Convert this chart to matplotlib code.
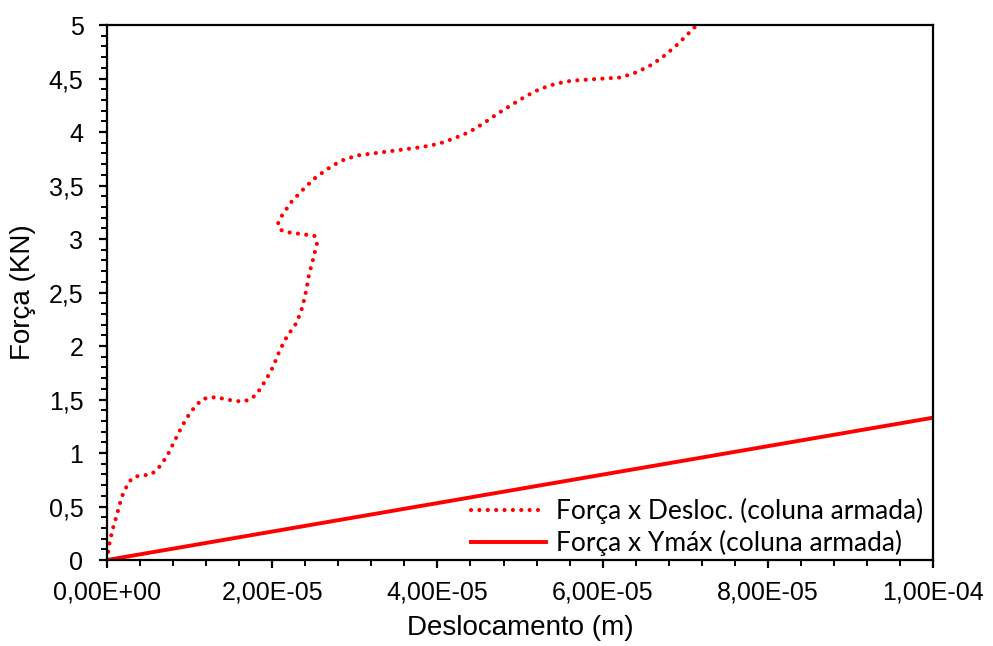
import matplotlib
matplotlib.use("Agg")
import matplotlib.pyplot as plt
from matplotlib.ticker import FuncFormatter, MultipleLocator

# Força x Desloc. (coluna armada) -- deslocamento em 1e-6 m, força em kN
desloc_um = [0.0, 0.24, 0.69, 1.25, 1.78, 2.63, 3.35, 4.32, 5.33, 6.14,
             7.26, 8.15, 9.08, 10.08, 11.46, 12.38, 13.40, 14.41, 16.34, 17.31,
             18.12, 19.21, 20.13, 20.91, 21.79, 22.97, 23.64, 24.09, 24.46, 24.94,
             25.42, 25.10, 24.13, 22.15, 21.15, 20.67, 21.10, 22.24, 23.57, 25.02,
             26.60, 28.29, 30.23, 32.20, 35.23, 38.17, 40.16, 42.01, 43.86, 45.56,
             47.25, 48.91, 50.61, 52.34, 54.27, 56.26, 58.27, 60.25, 62.23, 64.16,
             65.98, 67.59, 69.09, 70.50, 71.15, 71.30]
forca = [0.0, 0.14, 0.29, 0.44, 0.59, 0.73, 0.78, 0.79, 0.80, 0.85,
         0.97, 1.11, 1.25, 1.38, 1.50, 1.52, 1.52, 1.50, 1.48, 1.50,
         1.55, 1.68, 1.81, 1.96, 2.09, 2.22, 2.36, 2.51, 2.67, 2.81,
         2.96, 3.03, 3.04, 3.06, 3.08, 3.14, 3.21, 3.34, 3.45, 3.56,
         3.65, 3.73, 3.78, 3.80, 3.83, 3.86, 3.89, 3.94, 4.00, 4.08,
         4.17, 4.25, 4.33, 4.40, 4.45, 4.48, 4.49, 4.50, 4.51, 4.56,
         4.63, 4.72, 4.82, 4.93, 4.98, 5.00]
desloc = [d * 1e-6 for d in desloc_um]

# Força x Ymáx (coluna armada)
ymax_x = [0.0, 1.0e-4]
ymax_f = [0.0, 1.33]

plt.rcParams['font.family'] = ['Liberation Sans', 'DejaVu Sans']

fig = plt.figure(figsize=(9.93, 6.46), dpi=100)
ax = fig.add_axes([0.1078, 0.1331, 0.8318, 0.8282])

ax.plot(desloc, forca, color='#ff0000', linewidth=3.0,
        linestyle=(0, (0.01, 2.0)), dash_capstyle='round',
        label='Força x Desloc. (coluna armada)')
ax.plot(ymax_x, ymax_f, color='#ff0000', linewidth=2.8,
        label='Força x Ymáx (coluna armada)')

ax.set_xlim(0, 1.0e-4)
ax.set_ylim(0, 5)

ax.xaxis.set_major_locator(MultipleLocator(2e-5))
ax.xaxis.set_minor_locator(MultipleLocator(4e-6))
ax.yaxis.set_major_locator(MultipleLocator(0.5))
ax.yaxis.set_minor_locator(MultipleLocator(0.1))

ax.xaxis.set_major_formatter(FuncFormatter(lambda v, p: f"{v:.2E}".replace('.', ',')))
ax.yaxis.set_major_formatter(FuncFormatter(lambda v, p: f"{v:g}".replace('.', ',')))

for s in ax.spines.values():
    s.set_linewidth(1.6)

ax.tick_params(axis='both', which='major', direction='out', length=6, width=1.6,
               labelsize=18, colors='black')
ax.tick_params(axis='both', which='minor', direction='out', length=4, width=1.4)
ax.tick_params(axis='y', which='major', pad=11)
ax.tick_params(axis='x', which='major', pad=9)

ax.set_xlabel('Deslocamento (m)', fontsize=20, labelpad=7)
ax.set_ylabel('Força (KN)', fontsize=20, labelpad=9)

# legend sits just over the bottom spine, as in the spreadsheet layout
leg = ax.legend(loc='lower right', bbox_to_anchor=(1.0012, -0.0131),
                frameon=False, handlelength=2.85,
                prop={'family': 'Lato', 'size': 19},
                borderaxespad=0.0, labelspacing=0.25, handletextpad=0.4)

fig.savefig('out.png', dpi=100, facecolor='white')
